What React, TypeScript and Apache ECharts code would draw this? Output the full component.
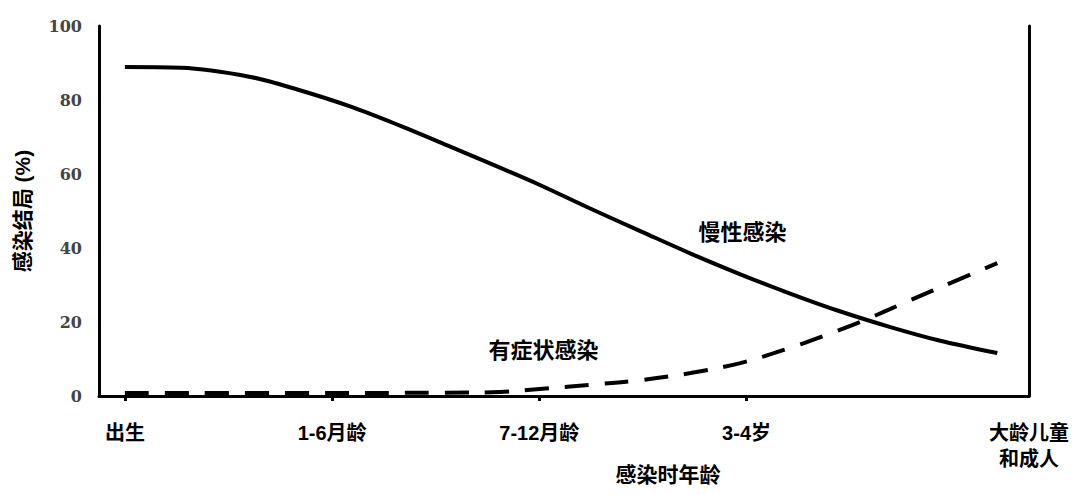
import { useEffect, useRef } from 'react';
import * as echarts from 'echarts';

// x positions of the age groups (one unit per group)
const ageLabels = ['出生', '1-6月龄', '7-12月龄', '3-4岁', '大龄儿童\n和成人'];
const agePositions = [0, 1, 2, 3, 4.363];
const tickPositions = [0, 1, 2, 3];

const yTicks = [0, 20, 40, 60, 80, 100];

// 慢性感染 (solid)
const chronicX = [0, 0.27, 0.6, 0.84, 1.09, 1.33, 1.57, 1.81, 2.0, 2.24, 2.49, 2.73, 2.97, 3.21, 3.45, 3.69, 3.93, 4.21];
const chronicY = [88.9, 88.7, 86.3, 82.7, 78.2, 73.0, 67.4, 61.7, 57.1, 50.8, 44.5, 38.5, 32.9, 27.7, 22.9, 18.7, 15.0, 11.6];

// 有症状感染 (dashed)
const symptomX = [0, 0.84, 1.55, 1.81, 2.03, 2.24, 2.49, 2.73, 2.97, 3.21, 3.4, 3.57, 3.77, 4.02, 4.21];
const symptomY = [0.8, 0.8, 0.9, 1.1, 2.0, 3.0, 4.3, 6.2, 8.9, 13.0, 16.8, 20.5, 25.4, 31.4, 35.9];

const cjk = '"Liberation Sans", "Noto Sans CJK SC", sans-serif';

export default function App() {
  const chartRef = useRef(null);

  useEffect(() => {
    document.body.style.margin = '0';
    const chart = echarts.init(chartRef.current, null, { renderer: 'svg' });

    const pair = (xs: number[], ys: number[]) => xs.map((x, i) => [x, ys[i]]);

    const option = {
      animation: false,
      grid: { left: 99, right: 51, top: 26, bottom: 99, outerBoundsMode: 'none' },
      xAxis: {
        type: 'value',
        min: -0.125,
        max: 4.363,
        name: '感染时年龄',
        nameLocation: 'middle',
        nameGap: 68,
        nameMoveOverlap: false,
        nameTextStyle: {
          fontFamily: cjk,
          fontWeight: 'bold',
          fontSize: 21,
          color: '#000',
          padding: [0, 0, 0, 208],
        },
        splitLine: { show: false },
        axisLine: { show: true, onZero: false, lineStyle: { color: '#000', width: 3 } },
        axisTick: {
          show: true,
          customValues: tickPositions,
          length: 5,
          lineStyle: { color: '#000', width: 3 },
        },
        axisLabel: {
          customValues: agePositions,
          margin: 24,
          fontFamily: cjk,
          fontWeight: 'bold',
          fontSize: 20,
          lineHeight: 26,
          color: '#000',
          formatter: (v: number) => {
            let best = 0;
            agePositions.forEach((p, i) => {
              if (Math.abs(p - v) < Math.abs(agePositions[best] - v)) best = i;
            });
            return ageLabels[best];
          },
        },
      },
      yAxis: [
        {
          type: 'value',
          min: 0,
          max: 100,
          interval: 20,
          name: '感染结局 (%)',
          nameLocation: 'middle',
          nameGap: 66,
          nameMoveOverlap: false,
          nameTextStyle: {
            fontFamily: cjk,
            fontWeight: 'bold',
            fontSize: 21,
            color: '#000',
          },
          splitLine: { show: false },
          axisLine: { show: true, onZero: false, lineStyle: { color: '#000', width: 3 } },
          axisTick: { show: false },
          axisLabel: {
            margin: 17,
            fontFamily: '"DejaVu Serif", serif',
            fontWeight: 'bold',
            fontSize: 16,
            color: '#444',
            customValues: yTicks,
          },
        },
        {
          type: 'value',
          min: 0,
          max: 100,
          position: 'right',
          splitLine: { show: false },
          axisLine: { show: true, onZero: false, lineStyle: { color: '#000', width: 3 } },
          axisTick: { show: false },
          axisLabel: { show: false },
        },
      ],
      series: [
        {
          name: '慢性感染',
          type: 'line',
          smooth: 0.35,
          showSymbol: false,
          data: pair(chronicX, chronicY),
          lineStyle: { color: '#000', width: 4 },
          markPoint: {
            symbol: 'circle',
            symbolSize: 0,
            label: {
              show: true,
              formatter: '慢性感染',
              fontFamily: cjk,
              fontWeight: 'bold',
              fontSize: 22,
              color: '#000',
            },
            data: [{ coord: [2.98, 44.3] }],
          },
        },
        {
          name: '有症状感染',
          type: 'line',
          smooth: 0.35,
          showSymbol: false,
          data: pair(symptomX, symptomY),
          lineStyle: { color: '#000', width: 4, type: [24, 16] },
          markPoint: {
            symbol: 'circle',
            symbolSize: 0,
            label: {
              show: true,
              formatter: '有症状感染',
              fontFamily: cjk,
              fontWeight: 'bold',
              fontSize: 22,
              color: '#000',
            },
            data: [{ coord: [2.02, 12.4] }],
          },
        },
      ],
    };

    chart.setOption(option);
    return () => {
      chart.dispose();
    };
  }, []);

  return <div ref={chartRef} style={{ width: '1080px', height: '495px' }} />;
}
